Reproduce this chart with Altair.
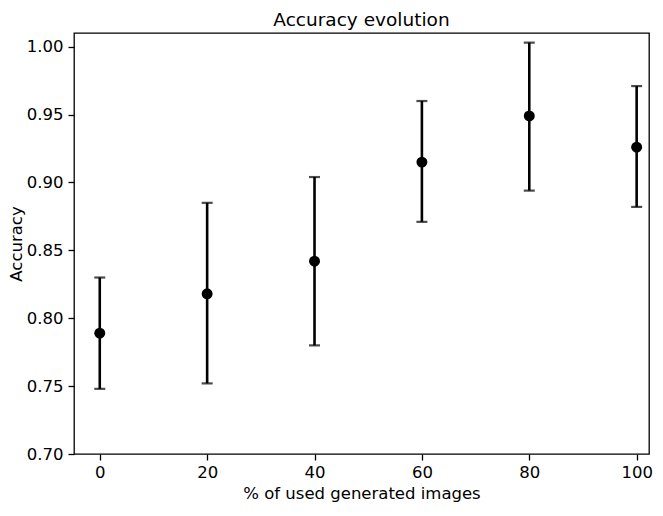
import altair as alt
import pandas as pd

pct = [0, 20, 40, 60, 80, 100]
acc_mean = [0.789, 0.818, 0.842, 0.915, 0.949, 0.926]
acc_low = [0.748, 0.752, 0.780, 0.871, 0.894, 0.882]
acc_high = [0.830, 0.885, 0.904, 0.960, 1.003, 0.971]
x_ticks = [0, 20, 40, 60, 80, 100]
y_ticks = [0.70, 0.75, 0.80, 0.85, 0.90, 0.95, 1.00]

df = pd.DataFrame({"pct": pct, "mean": acc_mean, "low": acc_low, "high": acc_high})

FONT = "DejaVu Sans"
FS = 16.5

xs = alt.Scale(domain=[-4.8, 102.3], nice=False, zero=False)
ys = alt.Scale(domain=[0.70, 1.0101], nice=False, zero=False)

xaxis = alt.Axis(values=x_ticks, title="% of used generated images", grid=False,
                 labelFontSize=FS, titleFontSize=FS, tickSize=6, tickWidth=1.3,
                 labelPadding=4, titlePadding=5, domain=False, tickColor="black",
                 labelColor="black", titleColor="black", titleFontWeight="normal",
                 labelFont=FONT, titleFont=FONT)
yaxis = alt.Axis(values=y_ticks, format=".2f", title="Accuracy", grid=False,
                 labelFontSize=FS, titleFontSize=FS, tickSize=6, tickWidth=1.3,
                 labelPadding=5, titlePadding=2, domain=False, tickColor="black",
                 labelColor="black", titleColor="black", titleFontWeight="normal",
                 labelFont=FONT, titleFont=FONT)

base = alt.Chart(df)

bars = base.mark_rule(color="black", strokeWidth=2.6).encode(
    x=alt.X("pct:Q", scale=xs, axis=xaxis),
    y=alt.Y("low:Q", scale=ys, axis=yaxis),
    y2="high:Q",
)
cap_lo = base.mark_tick(color="black", thickness=2.2, size=11, orient="horizontal").encode(
    x=alt.X("pct:Q", scale=xs), y=alt.Y("low:Q", scale=ys)
)
cap_hi = base.mark_tick(color="black", thickness=2.2, size=11, orient="horizontal").encode(
    x=alt.X("pct:Q", scale=xs), y=alt.Y("high:Q", scale=ys)
)
pts = base.mark_circle(color="black", size=120, opacity=1).encode(
    x=alt.X("pct:Q", scale=xs), y=alt.Y("mean:Q", scale=ys)
)

chart = alt.layer(bars, cap_lo, cap_hi, pts).properties(
    width=575, height=421,
    title=alt.TitleParams("Accuracy evolution", fontSize=18.5, font=FONT, fontWeight="normal",
                          color="black", offset=4),
    autosize=alt.AutoSizeParams(type="none"),
    padding={"left": 66, "top": 25, "right": 6, "bottom": 48},
).configure(background="white").configure_view(stroke="black", strokeWidth=1.3)

chart.save("out.html", embed_options={"renderer": "svg", "actions": False})
